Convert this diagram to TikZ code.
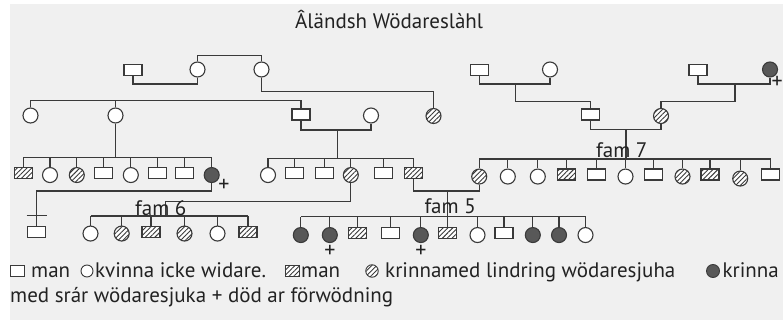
\documentclass[tikz,border=0pt]{standalone}
\usepackage{fontspec}
\setmainfont{PT Sans}
\usetikzlibrary{patterns.meta}
\definecolor{bg}{HTML}{F0F0F0}
\definecolor{lc}{HTML}{3A3A3A}
\definecolor{ff}{HTML}{585858}
\definecolor{tc}{HTML}{222222}
\tikzset{
  ln/.style={draw=lc, line width=1.2pt},
  male/.style={rectangle, draw=lc, fill=white, line width=1.1pt, minimum width=18pt, minimum height=11pt, inner sep=0pt},
  fem/.style={circle, draw=lc, fill=white, line width=1.1pt, minimum size=15pt, inner sep=0pt},
  hat/.style={preaction={fill=white}, pattern={Lines[angle=45,distance=3.4pt,line width=0.9pt]}, pattern color=lc},
  aff/.style={fill=ff},
  txt/.style={font=\fontsize{21}{25}\selectfont, text=tc, inner sep=0pt, anchor=base west},
  plus/.style={font=\fontsize{22}{24}\selectfont, text=tc, inner sep=0pt},
}
\begin{document}
\begin{tikzpicture}[x=1pt,y=-1pt]
\useasboundingbox (0,0) rectangle (783,320);
\fill[bg] (10,4) rectangle (783,320);

\node[txt] (title) at (295,29) {Âländsh Wödareslàhl};

% generation 1
\node[male] (a1) at (133,70) {};
\node[fem] (a2) at (197.5,69.5) {};
\node[fem] (a3) at (261.5,69.5) {};
\node[male] (b1) at (479.5,70) {};
\node[fem] (b2) at (550,69.5) {};
\node[male] (c1) at (698,70) {};
\node[fem,aff] (c2) at (770,69.5) {};
\node[plus,anchor=east] (c2p) at (783,82.5) {+};

% generation 2
\node[fem] (g1) at (30.5,115.5) {};
\node[fem] (g2) at (115.5,115.5) {};
\node[male] (g3) at (301,114.5) {};
\node[fem] (g4) at (371,115.5) {};
\node[fem,hat] (h1) at (433.5,116) {};
\node[male] (k1) at (590.5,114.5) {};
\node[fem,hat] (k2) at (661,116) {};

\draw[ln] (a1.south) -- (a1.south|-0,84) -| (a2.south);
\draw[ln] (a2.north) -- (a2.north|-0,55.5) -| (a3.north);
\draw[ln] (a3.south) |- (h1.north|-0,91.5) -- (h1.north);
\draw[ln] (g1.north) -- (g1.north|-0,100.7) -| (g3.north);
\draw[ln] (g2.north) -- (g2.north|-0,100.7);
\draw[ln] (b1.south) -- (b1.south|-0,84) -| (b2.south);
\coordinate (bm) at (515.7,84);
\draw[ln] (bm) |- (k1.north|-0,101.7) -- (k1.north);
\draw[ln] (c1.south) -- (c1.south|-0,84) -| (c2.south);
\coordinate (cm) at (735,84);
\draw[ln] (cm) |- (k2.north|-0,101.7) -- (k2.north);
\draw[ln] (g3.south) -- (g3.south|-0,130) -| (g4.south);
\coordinate (gm) at (337.3,130);
\draw[ln] (k1.south) -- (k1.south|-0,129.5) -| (k2.south);
\coordinate (km) at (626,129.5);
\draw[ln] (g2.south) -- (g2.south|-0,157.7);

% row L (children of g2)
\node[male,hat,anchor=north] (l1) at (23.3,167) {};
\node[fem,anchor=north] (l2) at (50,167) {};
\node[fem,hat,anchor=north] (l3) at (76.8,167) {};
\node[male,anchor=north] (l4) at (103.8,167) {};
\node[fem,anchor=north] (l5) at (130.8,167) {};
\node[male,anchor=north] (l6) at (157.7,167) {};
\node[male,anchor=north] (l7) at (184.5,167) {};
\node[fem,aff,anchor=north] (l8) at (211.7,167) {};
\node[plus] (l8p) at (224,185.5) {+};
\draw[ln] (l1.north|-0,157.7) -- (l8.north|-0,157.7);
\foreach \n in {l1,l2,l3,l4,l5,l6,l7,l8} \draw[ln] (\n.north) -- (\n.north|-0,157.7);

\node[male,anchor=north] (iso) at (36.7,226) {};
\draw[ln] (l8.south) -- (l8.south|-0,191) -| (iso.north);
\coordinate (tk1) at (26.7,215.3);
\coordinate (tk2) at (47.3,215.3);
\draw[ln] (tk1) -- (tk2);

% row M (children of g3 + g4)
\node[fem,anchor=north] (m1) at (268,167) {};
\node[male,anchor=north] (m2) at (294.5,167) {};
\node[male,anchor=north] (m3) at (324.5,167) {};
\node[fem,hat,anchor=north] (m4) at (350.8,167) {};
\node[male,anchor=north] (m5) at (383.3,167) {};
\node[male,hat,anchor=north] (m6) at (413.3,167) {};
\draw[ln] (gm) -- (gm|-0,158.3);
\draw[ln] (m1.north|-0,158.3) -- (m6.north|-0,158.3);
\foreach \n in {m1,m2,m3,m4,m5,m6} \draw[ln] (\n.north) -- (\n.north|-0,158.3);

% row R (fam 7)
\node[fem,hat,anchor=north] (r1) at (479.2,168.5) {};
\node[fem,anchor=north] (r2) at (507.8,168.5) {};
\node[fem,anchor=north] (r3) at (537.8,168.5) {};
\node[male,hat,anchor=north] (r4) at (566.5,168.5) {};
\node[male,anchor=north] (r5) at (596.5,168.5) {};
\node[fem,anchor=north] (r6) at (625.5,168.5) {};
\node[male,anchor=north] (r7) at (653.5,168.5) {};
\node[fem,hat,anchor=north] (r8) at (682.5,168.5) {};
\node[male,hat,anchor=north] (r9) at (710,168.5) {};
\node[fem,hat,anchor=north] (r10) at (740.2,170.5) {};
\node[male,anchor=north] (r11) at (770.5,168.5) {};
\draw[ln, line width=1.8pt] (km) -- (km|-0,159);
\draw[ln] (r1.north|-0,159) -- (r11.north|-0,159);
\foreach \n in {r1,r2,r3,r4,r5,r6,r7,r8,r9,r10,r11} \draw[ln] (\n.north) -- (\n.north|-0,159);
\node[txt] (fam7) at (596,157.7) {fam 7};

% fam 6
\node[fem,anchor=north] (s1) at (90.5,225.5) {};
\node[fem,hat,anchor=north] (s2) at (121.7,225.5) {};
\node[male,hat,anchor=north] (s3) at (151,225.5) {};
\node[fem,hat,anchor=north] (s4) at (184.5,225.5) {};
\node[fem,anchor=north] (s5) at (217.5,225.5) {};
\node[male,hat,anchor=north] (s6) at (248,225.5) {};
\draw[ln] (s1.north|-0,216) -- (s6.north|-0,216);
\foreach \n in {s1,s2,s3,s4,s5,s6} \draw[ln] (\n.north) -- (\n.north|-0,216);
\coordinate (f6) at (165.7,216);
\draw[ln] (m4.south) |- (f6|-0,201.7) -- (f6);
\node[txt] (fam6) at (135,215) {fam 6};

% fam 5
\node[fem,aff,anchor=north] (t1) at (300.8,227) {};
\node[fem,aff,anchor=north] (t2) at (329.8,227) {};
\node[male,hat,anchor=north] (t3) at (357.8,227) {};
\node[male,anchor=north] (t4) at (390.5,227) {};
\node[fem,aff,anchor=north] (t5) at (420.8,227) {};
\node[male,hat,anchor=north] (t6) at (447.7,227) {};
\node[fem,anchor=north] (t7) at (477.5,227) {};
\node[male,anchor=north] (t8) at (504,227) {};
\node[fem,aff,anchor=north] (t9) at (532.8,227) {};
\node[fem,aff,anchor=north] (t10) at (559,227) {};
\node[fem,anchor=north] (t11) at (585.5,227) {};
\draw[ln] (t1.north|-0,216.7) -- (t11.north|-0,216.7);
\foreach \n in {t1,t2,t3,t4,t5,t6,t7,t8,t9,t10,t11} \draw[ln] (\n.north) -- (\n.north|-0,216.7);
\draw[ln] (m6.south) -- (m6.south|-0,191) -| (r1.south);
\coordinate (f5) at (447.7,191);
\draw[ln] (f5) -- (t6.north);
\node[txt] (fam5) at (424.3,213.3) {fam 5};
\node[plus] (t2p) at (330,251.7) {+};
\node[plus] (t5p) at (420.8,251.7) {+};

% legend
\node[rectangle, draw=lc, fill=white, line width=0.9pt, minimum width=14pt, minimum height=10.5pt, inner sep=0pt] (lg1) at (17.5,271) {};
\node[txt] (lt1) at (31,277) {man};
\node[circle, draw=lc, fill=white, line width=0.9pt, minimum size=12pt, inner sep=0pt] (lg2) at (87,271) {};
\node[txt] (lt2) at (95,277) {kvinna icke widare.};
\node[rectangle, draw=lc, hat, line width=0.9pt, minimum width=14pt, minimum height=10.5pt, inner sep=0pt] (lg3) at (292.5,271) {};
\node[txt] (lt3) at (301,277) {man};
\node[circle, draw=lc, hat, line width=0.9pt, minimum size=12.5pt, inner sep=0pt] (lg4) at (372,271) {};
\node[txt] (lt4) at (385,277) {krinnamed lindring wödaresjuha};
\node[circle, draw=lc, fill=ff, line width=0.9pt, minimum size=13pt, inner sep=0pt] (lg5) at (713,271) {};
\node[txt,anchor=base east] (lt5) at (779,277) {krinna};
\node[txt] (lt6) at (10,302) {med srár wödaresjuka + död ar förwödning};
\end{tikzpicture}
\end{document}
